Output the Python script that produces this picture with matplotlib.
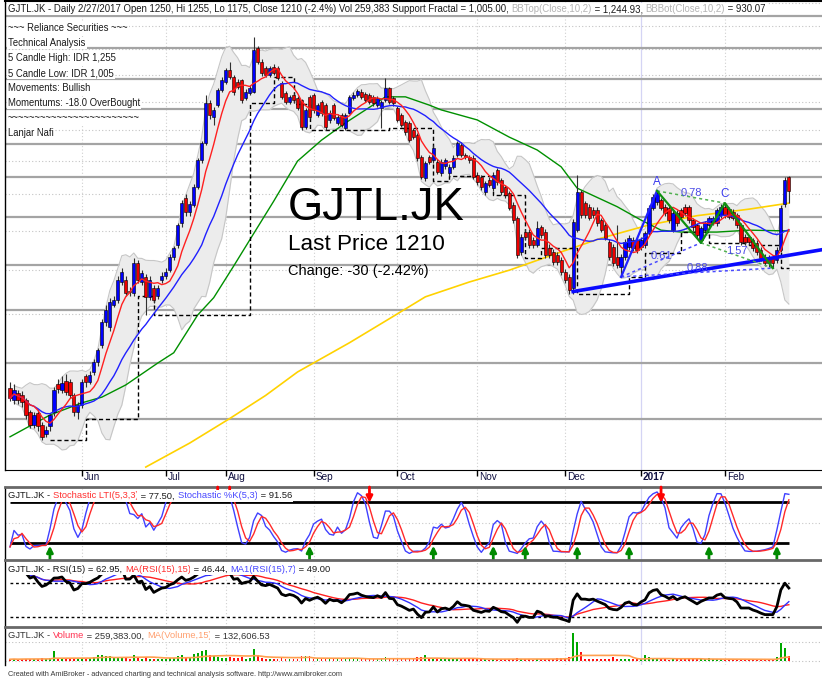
import numpy as np
import pandas as pd
import matplotlib
matplotlib.use('Agg')
import matplotlib.pyplot as plt
from matplotlib import font_manager
from matplotlib.ticker import NullLocator

# narrow font, AmiBroker text looks condensed
names = {f.name for f in font_manager.fontManager.ttflist}
if 'Liberation Sans Narrow' in names:
    FONT, K = 'Liberation Sans Narrow', 0.95
else:
    FONT, K = 'Liberation Sans', 0.80
plt.rcParams['font.family'] = FONT

# ---------------- data ----------------
opens = [754, 732, 745, 741, 732, 711, 690, 709, 690, 675,
         687, 711, 761, 750, 767, 765, 741, 711, 723, 775,
         765, 782, 802, 835, 883, 872, 920, 931, 972, 977,
         951, 947, 1018, 972, 984, 938, 959, 940, 977, 986,
         1000, 1033, 1063, 1120, 1189, 1151, 1170, 1221, 1303, 1357,
         1494, 1446, 1487, 1542, 1572, 1618, 1591, 1572, 1579, 1513,
         1531, 1535, 1706, 1649, 1626, 1598, 1630, 1626, 1568, 1531,
         1498, 1524, 1513, 1505, 1411, 1517, 1524, 1453, 1498, 1487,
         1435, 1487, 1425, 1453, 1408, 1460, 1513, 1524, 1535, 1527,
         1524, 1517, 1487, 1477, 1505, 1549, 1513, 1477, 1453, 1428,
         1425, 1401, 1384, 1313, 1248, 1313, 1303, 1297, 1263, 1285,
         1263, 1282, 1319, 1351, 1319, 1313, 1310, 1257, 1251, 1206,
         1242, 1218, 1272, 1242, 1221, 1203, 1170, 1134, 1045, 1096,
         1096, 1075, 1063, 1109, 1096, 1055, 1045, 1038, 1025, 995,
         984, 959, 1101, 1206, 1175, 1165, 1156, 1156, 1128, 1115,
         1070, 1058, 1033, 1008, 1033, 1058, 1075, 1075, 1058, 1063,
         1093, 1162, 1178, 1184, 1165, 1162, 1101, 1148, 1156, 1165,
         1165, 1128, 1115, 1075, 1101, 1115, 1123, 1120, 1142, 1165,
         1159, 1151, 1142, 1115, 1083, 1083, 1075, 1068, 1050, 1033,
         1030, 1033, 1025, 1050, 1173, 1250]
closes = [735, 750, 732, 728, 706, 690, 706, 687, 670, 681,
          706, 750, 752, 763, 746, 741, 711, 723, 765, 765,
          778, 802, 825, 883, 909, 927, 931, 977, 995, 947,
          949, 1018, 977, 993, 938, 977, 931, 959, 986, 995,
          1033, 1055, 1115, 1175, 1151, 1173, 1221, 1303, 1357, 1494,
          1453, 1470, 1542, 1579, 1618, 1591, 1535, 1553, 1505, 1535,
          1549, 1698, 1649, 1606, 1598, 1626, 1606, 1587, 1517, 1498,
          1517, 1505, 1477, 1411, 1470, 1446, 1470, 1487, 1460, 1411,
          1460, 1442, 1446, 1418, 1453, 1517, 1524, 1538, 1517, 1505,
          1498, 1494, 1513, 1498, 1549, 1498, 1494, 1435, 1418, 1394,
          1367, 1377, 1310, 1251, 1294, 1297, 1341, 1266, 1297, 1303,
          1282, 1310, 1357, 1319, 1313, 1303, 1251, 1236, 1221, 1233,
          1227, 1257, 1236, 1206, 1198, 1162, 1128, 1038, 1083, 1083,
          1063, 1063, 1107, 1088, 1038, 1038, 1020, 1020, 995, 977,
          953, 1123, 1206, 1142, 1142, 1134, 1142, 1120, 1101, 1081,
          1033, 1018, 1013, 1033, 1070, 1081, 1055, 1050, 1075, 1093,
          1162, 1192, 1203, 1162, 1148, 1128, 1148, 1120, 1137, 1148,
          1128, 1109, 1088, 1107, 1120, 1134, 1134, 1156, 1165, 1142,
          1137, 1134, 1115, 1070, 1070, 1070, 1055, 1045, 1030, 1018,
          1018, 1018, 1050, 1162, 1242, 1210]
highs = [765, 760, 750, 748, 735, 715, 712, 715, 695, 688,
         710, 755, 770, 775, 780, 770, 745, 728, 770, 780,
         785, 808, 830, 890, 920, 935, 940, 985, 1005, 985,
         960, 1030, 1025, 1000, 990, 985, 965, 965, 995, 1005,
         1040, 1060, 1120, 1185, 1200, 1180, 1230, 1310, 1365, 1524,
         1505, 1480, 1550, 1590, 1625, 1649, 1598, 1585, 1585, 1545,
         1560, 1751, 1715, 1660, 1635, 1635, 1640, 1635, 1575, 1540,
         1525, 1530, 1520, 1510, 1478, 1525, 1530, 1495, 1505, 1495,
         1470, 1495, 1455, 1460, 1460, 1525, 1535, 1545, 1545, 1535,
         1530, 1525, 1520, 1505, 1587, 1555, 1520, 1485, 1460, 1435,
         1430, 1408, 1390, 1320, 1300, 1320, 1350, 1305, 1305, 1310,
         1290, 1318, 1365, 1360, 1325, 1320, 1318, 1265, 1258, 1240,
         1250, 1265, 1280, 1248, 1228, 1210, 1178, 1140, 1090, 1105,
         1105, 1082, 1125, 1115, 1103, 1065, 1052, 1045, 1032, 1002,
         990, 1130, 1257, 1212, 1182, 1172, 1165, 1165, 1135, 1122,
         1078, 1065, 1115, 1040, 1078, 1088, 1082, 1082, 1082, 1100,
         1170, 1200, 1210, 1190, 1172, 1168, 1155, 1155, 1162, 1172,
         1170, 1135, 1120, 1112, 1126, 1140, 1140, 1162, 1172, 1175,
         1165, 1158, 1148, 1120, 1090, 1088, 1080, 1075, 1058, 1040,
         1036, 1038, 1058, 1170, 1250, 1255]
lows = [730, 725, 725, 720, 700, 685, 685, 680, 665, 670,
        680, 705, 745, 745, 740, 735, 705, 700, 718, 755,
        760, 778, 795, 830, 875, 865, 915, 925, 965, 940,
        940, 940, 970, 965, 898, 930, 925, 932, 970, 980,
        995, 1025, 1055, 1110, 1140, 1140, 1165, 1215, 1295, 1350,
        1440, 1418, 1480, 1535, 1565, 1585, 1525, 1545, 1495, 1505,
        1525, 1530, 1640, 1595, 1590, 1590, 1598, 1580, 1510, 1490,
        1490, 1495, 1470, 1400, 1405, 1440, 1460, 1445, 1450, 1400,
        1425, 1435, 1418, 1410, 1400, 1455, 1505, 1515, 1510, 1498,
        1490, 1485, 1480, 1408, 1500, 1490, 1485, 1428, 1410, 1385,
        1360, 1370, 1300, 1245, 1240, 1290, 1295, 1260, 1255, 1275,
        1255, 1275, 1312, 1312, 1305, 1295, 1245, 1228, 1212, 1198,
        1220, 1210, 1228, 1198, 1190, 1155, 1120, 1030, 1038, 1075,
        1055, 1055, 1058, 1080, 1030, 1030, 1012, 1012, 988, 970,
        945, 945, 1095, 1135, 1135, 1128, 1135, 1112, 1095, 1075,
        1025, 1010, 1005, 984, 1025, 1050, 1048, 1043, 1050, 1055,
        1088, 1155, 1170, 1155, 1140, 1120, 1095, 1112, 1130, 1140,
        1120, 1100, 1080, 1068, 1095, 1108, 1115, 1112, 1135, 1135,
        1130, 1128, 1108, 1062, 1062, 1062, 1048, 1038, 1022, 1010,
        1008, 1005, 1018, 1045, 1165, 1175]
# volume in thousands of shares
volume = [90, 110, 80, 100, 130, 120, 90, 110, 140, 80,
          150, 520, 150, 120, 130, 100, 140, 110, 160, 120,
          140, 200, 300, 320, 280, 250, 150, 200, 180, 160,
          100, 300, 150, 120, 220, 130, 120, 110, 100, 90,
          180, 160, 250, 300, 200, 180, 350, 420, 500, 560,
          300, 250, 200, 160, 180, 200, 150, 140, 200, 120,
          180, 620, 300, 150, 120, 100, 110, 130, 150, 100,
          90, 120, 130, 250, 280, 260, 120, 110, 100, 130,
          110, 100, 90, 120, 110, 150, 130, 100, 90, 80,
          100, 90, 110, 180, 200, 130, 110, 120, 110, 100,
          120, 100, 200, 220, 300, 120, 110, 100, 90, 100,
          90, 120, 180, 100, 90, 80, 110, 100, 90, 80,
          70, 90, 80, 90, 100, 90, 120, 160, 110, 90,
          80, 70, 100, 80, 110, 90, 100, 150, 170, 180,
          200, 1450, 1000, 450, 120, 100, 80, 90, 80, 100,
          90, 200, 100, 90, 120, 100, 80, 90, 100, 300,
          200, 130, 100, 80, 90, 70, 100, 80, 130, 90,
          80, 100, 90, 80, 110, 180, 100, 90, 80, 70,
          80, 60, 80, 90, 70, 80, 70, 90, 80, 100,
          120, 110, 200, 940, 680, 259]

green_bars = [0, 10, 18, 23, 29, 37, 41, 47, 51, 56, 60, 66, 72, 78, 84, 89,
              94, 99, 105, 108, 117, 125, 132, 138, 142, 152, 158, 163, 168,
              177, 185, 195]
green_vals = [670, 706, 727, 737, 759, 800, 820, 898, 936, 1010, 1075, 1180,
              1300, 1367, 1425, 1470, 1517, 1517, 1487, 1470, 1435, 1377, 1335,
              1282, 1218, 1165, 1128, 1101, 1096, 1096, 1101, 1099]
yellow_bars = [34, 45, 55, 64, 72, 85, 95, 104, 115, 125, 138, 148, 160, 172, 185, 195]
yellow_vals = [623, 660, 700, 740, 783, 840, 890, 938, 972, 1000, 1045, 1080,
               1115, 1140, 1158, 1175]

levels = [1842, 1706, 1583, 1473, 1354, 1251, 1136, 1012, 908, 801, 700]

month_bars = [18, 39, 54, 76, 97, 117, 139, 158, 179]
month_labels = ['Jun', 'Jul', 'Aug', 'Sep', 'Oct', 'Nov', 'Dec', '2017', 'Feb']

trend_bars = [141, 203]
trend_prices = [950, 1050]

pattern_bars = [153, 162, 173, 179, 191]
pattern_prices = [984, 1210, 1068, 1175, 1005]
ratio_pairs = [(0, 2), (1, 3), (2, 4), (0, 4)]
ratio_labels = ['0.61', '0.78', '1.57', '0.88']

buy_bars = [10, 75, 106, 121, 129, 142, 155, 175, 192]
sell_bars = [52, 55, 90, 163]

# ---------------- indicators ----------------
n = len(closes)
idx = np.arange(n)
o = np.array(opens, float)
c = np.array(closes, float)
h = np.array(highs, float)
l = np.array(lows, float)
cs = pd.Series(c)

ma_red = cs.rolling(7, min_periods=1).mean()
ma_blue = cs.rolling(20, min_periods=1).mean()
bb_mid = cs.rolling(10, min_periods=2).mean()
bb_sd = cs.rolling(10, min_periods=2).std(ddof=0)
bb_top = bb_mid + 2 * bb_sd
bb_bot = bb_mid - 2 * bb_sd

# support fractal (5 bar) as a step line
support = np.full(n, np.nan)
last = np.nan
for i in range(n):
    j = i - 2
    if j >= 2 and l[j] == l[j - 2:j + 3].min():
        last = l[j]
    support[i] = last

ll = pd.Series(l).rolling(5, min_periods=1).min()
hh = pd.Series(h).rolling(5, min_periods=1).max()
fast = (cs - ll) / (hh - ll) * 100
stoch_k = fast.rolling(3, min_periods=1).mean()
stoch_d = stoch_k.rolling(3, min_periods=1).mean()

delta = cs.diff()
gain = delta.clip(lower=0).ewm(alpha=1 / 15, adjust=False, min_periods=4).mean()
loss = (-delta.clip(upper=0)).ewm(alpha=1 / 15, adjust=False, min_periods=4).mean()
rsi = 100 - 100 / (1 + gain / loss)
rsi_ma15 = rsi.rolling(15, min_periods=1).mean()
rsi_ma7 = rsi.rolling(7, min_periods=1).mean()

vol = pd.Series(volume, dtype=float)
vol_ma = vol.rolling(15, min_periods=1).mean()

up = c >= o

# ---------------- figure ----------------
W, H = 822, 681
fig = plt.figure(figsize=(W / 100, H / 100), dpi=100)
fig.patch.set_facecolor('white')


def box(top, bottom):
    return [5 / W, 1 - bottom / H, 817 / W, (bottom - top) / H]


ax = fig.add_axes(box(1, 470))
axs = fig.add_axes(box(487, 560))
axr = fig.add_axes(box(560, 627))
axv = fig.add_axes(box(627, 665))

XMIN, XMAX = -1.25, 203.3
for a in (ax, axs, axr, axv):
    a.set_xlim(XMIN, XMAX)
    a.tick_params(axis='y', left=False, labelleft=False)
    a.spines['right'].set_visible(False)
    a.spines['left'].set_color('black')
    a.spines['left'].set_linewidth(1)
    for b, lab in zip(month_bars, month_labels):
        if lab == '2017':
            a.axvline(b, color='#d4d4f4', lw=0.9, zorder=0.5)
        else:
            a.axvline(b, color='#d0d0d0', lw=0.8, ls=(0, (1, 2)), zorder=0.5)
for a in (axs, axr, axv):
    a.tick_params(axis='x', bottom=False, labelbottom=False)
    a.spines['bottom'].set_visible(False)
    a.spines['top'].set_color('#686868')
    a.spines['top'].set_linewidth(2)

# ---- main price panel ----
ax.set_yscale('log')
ax.set_ylim(618.6, 1910)
ax.yaxis.set_major_locator(NullLocator())
ax.yaxis.set_minor_locator(NullLocator())
ax.spines['top'].set_linewidth(1.5)
ax.set_xticks(month_bars)
ax.tick_params(axis='x', direction='out', length=4, width=1, labelbottom=False)
for b, lab in zip(month_bars, month_labels):
    ax.text(b + 0.5, -7 / 469, lab, transform=ax.get_xaxis_transform(),
            ha='left', va='center', fontsize=9 * K, color='#101040',
            fontweight='bold' if lab == '2017' else 'normal', clip_on=False)

for p in range(700, 2000, 100):
    ax.axhline(p, color='#c4c4c4', lw=0.8, ls=(0, (1, 2)), zorder=0.6)
for lv in levels:
    ax.axhline(lv, color='#a4a4a4', lw=1.6, zorder=1)

ax.fill_between(idx, bb_bot, bb_top, color='#ececec', lw=0, zorder=1.5)
ax.plot(idx, bb_top, color='#c6c6c6', lw=0.8, zorder=1.6)
ax.plot(idx, bb_bot, color='#c6c6c6', lw=0.8, zorder=1.6)

ax.plot(yellow_bars, yellow_vals, color='#ffd200', lw=1.2, zorder=2)
ax.plot(green_bars, green_vals, color='#009000', lw=1.0, zorder=2)
ax.plot(idx, support, color='black', lw=1.0, ls=(0, (3, 2)), drawstyle='steps-post', zorder=2.2)

ax.vlines(idx, l, h, color='#303030', lw=0.8, zorder=3)
ax.bar(idx, np.abs(c - o), bottom=np.minimum(o, c), width=0.8,
       color=np.where(up, '#0000ff', '#ee0000'), edgecolor='black', linewidth=0.4, zorder=3.2)

ax.plot(idx, ma_blue, color='#2020ff', lw=1.0, zorder=3.5)
ax.plot(idx, ma_red, color='#ff2020', lw=1.0, zorder=3.6)

ax.plot(trend_bars, trend_prices, color='#0a0aff', lw=2.6, zorder=4)

# harmonic pattern
pb, pp = pattern_bars, pattern_prices
ax.plot(pb[0:2], pp[0:2], color='#2020ff', lw=1.6, zorder=4.2)
ax.plot(pb[1:], pp[1:], color='#109010', lw=1.6, zorder=4.2)
for (a_, b_), lab in zip(ratio_pairs, ratio_labels):
    col = '#4a4aff' if a_ == 0 else '#50b050'
    ax.plot([pb[a_], pb[b_]], [pp[a_], pp[b_]], color=col, lw=1.1, ls=(0, (2, 2)), zorder=4.1)
    mx = (pb[a_] + pb[b_]) / 2
    my = np.sqrt(pp[a_] * pp[b_])
    ax.annotate(lab, (mx, my), xytext=(0, 3), textcoords='offset points',
                ha='center', va='center', fontsize=10 * K, color='#4a4ae6', zorder=4.5)
for k_ in (1, 3):
    ax.annotate('XABCD'[k_], (pb[k_], pp[k_]), xytext=(0, 2),
                textcoords='offset points', ha='center', va='bottom',
                fontsize=10.5 * K, color='#3a3aee', zorder=4.5)

ax.text(288 / W, 1 - 220 / H, 'GJTL.JK', transform=fig.transFigure, fontsize=41 * K,
        va='baseline', ha='left', color='black', zorder=6)
ax.text(288 / W, 1 - 250 / H, 'Last Price 1210', transform=fig.transFigure, fontsize=20.2 * K,
        va='baseline', ha='left', color='black', zorder=6)
ax.text(288 / W, 1 - 275 / H, 'Change: -30 (-2.42%)', transform=fig.transFigure, fontsize=13.2 * K,
        va='baseline', ha='left', color='black', zorder=6)

WB = dict(facecolor='white', edgecolor='none', boxstyle='square,pad=0.12')


def rainbow(axis, x, y, pieces, size=8.42):
    t = axis.text(x / W, 1 - y / H, pieces[0][0], color=pieces[0][1], transform=fig.transFigure,
                  fontsize=size * K, ha='left', va='center', bbox=WB, zorder=7)
    for s, col in pieces[1:]:
        t = axis.annotate(s, xy=(1, 0), xycoords=t, ha='left', va='bottom', color=col,
                          fontsize=size * K, bbox=WB, zorder=7, annotation_clip=False)
    return t


DARK = '#1a1a1a'
LG = '#b4b4b4'
rainbow(ax, 8, 9, [
    ('GJTL.JK - Daily 2/27/2017 Open 1250, Hi 1255, Lo 1175, Close 1210 (-2.4%) Vol 259,383 '
     'Support Fractal = 1,005.00, ', DARK),
    ('BBTop(Close,10,2)', LG), (' = 1,244.93, ', DARK),
    ('BBBot(Close,10,2)', LG), (' = 930.07', DARK)], size=8.7)

left_lines = ['~~~ Reliance Securities ~~~', 'Technical Analysis', '5 Candle High: IDR 1,255',
              '5 Candle Low: IDR 1,005', 'Movements: Bullish', 'Momentums: -18.0 OverBought',
              '~~~~~~~~~~~~~~~~~~~~~~~~', 'Lanjar Nafi']
for k_, s in enumerate(left_lines):
    ax.text(8 / W, 1 - (28 + 15 * k_) / H, s, transform=fig.transFigure, fontsize=8.6 * K,
            ha='left', va='center', color=DARK, bbox=WB, zorder=7)

# ---- stochastic panel ----
axs.set_ylim(-4.9, 102)
axs.axhline(50, color='#c8c8c8', lw=0.8, ls=(0, (1, 2)), zorder=0.6)
axs.hlines([80, 20], 0, n - 1, color='black', lw=2, zorder=1)
axs.plot(idx, stoch_k, color='#4040ff', lw=1.0, zorder=2)
axs.plot(idx, stoch_d, color='#ff2a2a', lw=1.0, zorder=2.1)
for b in buy_bars:
    axs.annotate('', xy=(b, 16), xytext=(b, -4.9),
                 arrowprops=dict(arrowstyle='-|>', color='#008a00', lw=2, mutation_scale=9,
                                 shrinkA=0, shrinkB=0), zorder=3)
for b in sell_bars:
    axs.annotate('', xy=(b, 79), xytext=(b, 102),
                 arrowprops=dict(arrowstyle='-|>', color='#ff0000', lw=2, mutation_scale=9,
                                 shrinkA=0, shrinkB=0), zorder=3)
rainbow(axs, 8, 496, [('GJTL.JK - ', DARK), ('Stochastic LTI(5,3,3)', '#ff3030'),
                      (' = 77.50, ', DARK), ('Stochastic %K(5,3)', '#4646ff'), (' = 91.56', DARK)])

# ---- RSI panel ----
axr.set_ylim(18.2, 97)
axr.hlines([70, 30], 0, n - 1, color='black', lw=1, linestyles=[(0, (2, 2))], zorder=1)
axr.plot(idx, rsi_ma15, color='#ff2020', lw=1.0, zorder=2)
axr.plot(idx, rsi_ma7, color='#3030ff', lw=1.0, zorder=2.1)
axr.plot(idx, rsi, color='black', lw=2.0, zorder=2.2)
rainbow(axr, 8, 569, [('GJTL.JK - RSI(15) = 62.95, ', DARK), ('MA(RSI(15),15)', '#ff3030'),
                      (' = 46.44, ', DARK), ('MA1(RSI(15),7)', '#4646ff'), (' = 49.00', DARK)])

# ---- volume panel ----
axv.set_ylim(-208, 1768)
axv.axhline(0, color='#c0c0c0', lw=0.8, ls=(0, (1, 2)), zorder=0.6)
axv.axhline(1000, color='#c0c0c0', lw=0.8, ls=(0, (1, 2)), zorder=0.6)
axv.bar(idx, vol, width=0.45, color=np.where(up, '#00a800', '#ff1010'), lw=0, zorder=2)
axv.plot(idx, vol_ma, color='#ffa050', lw=1.2, zorder=2.5)
rainbow(axv, 8, 636, [('GJTL.JK - ', '#333333'), ('Volume', '#ff3050'),
                      (' = 259,383.00, ', '#333333'), ('MA(Volume,15)', '#ffa070'),
                      (' = 132,606.53', '#333333')])

fig.text(8 / W, 1 - 675 / H,
         'Created with AmiBroker - advanced charting and technical analysis software. '
         'http://www.amibroker.com', fontsize=6.6 * K, color='#3a3a3a', ha='left', va='center')

fig.savefig('out.png', dpi=100)
